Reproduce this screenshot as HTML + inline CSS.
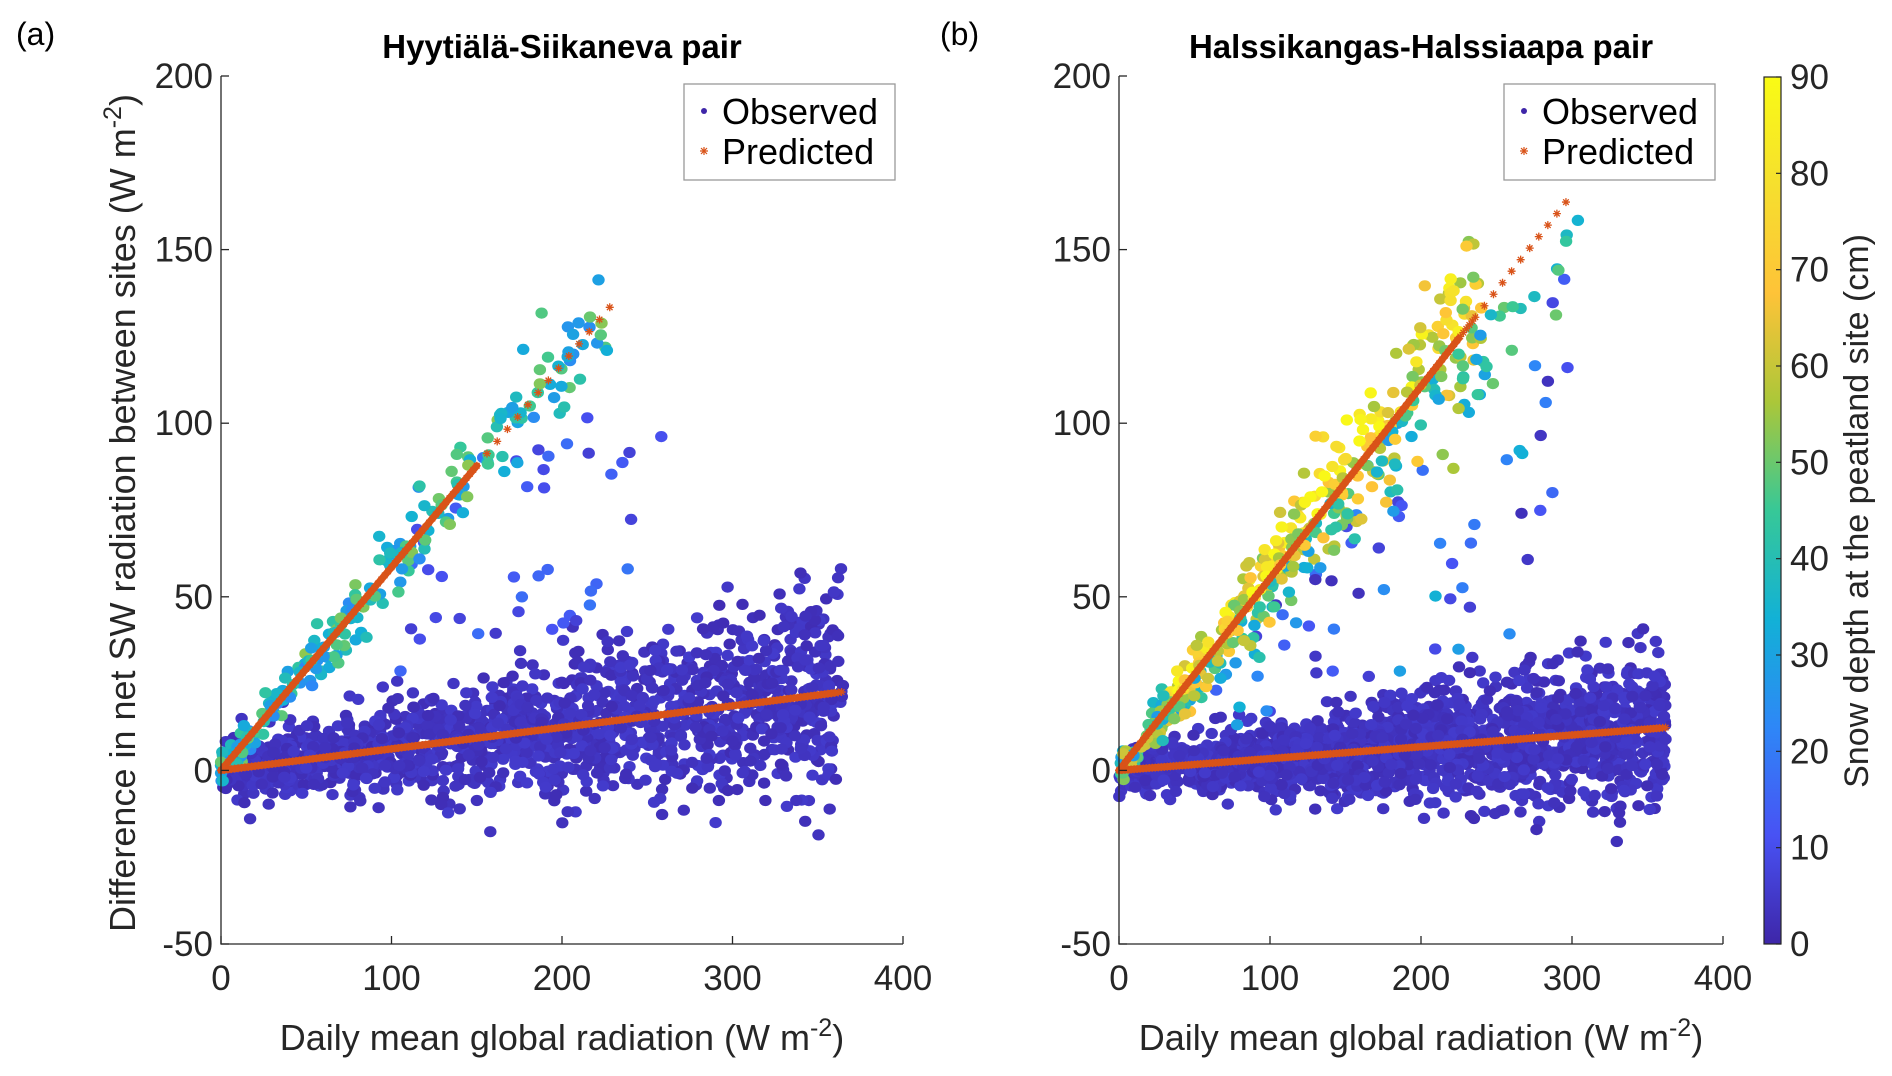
<!DOCTYPE html>
<html><head><meta charset="utf-8"><style>
body{margin:0;background:#fff;}
svg{display:block;font-family:"Liberation Sans",sans-serif;}
</style></head><body>
<svg id="s" width="1892" height="1076" viewBox="0 0 1892 1076" xmlns="http://www.w3.org/2000/svg">
<defs>
<linearGradient id="parula" x1="0" y1="1" x2="0" y2="0">
<stop offset="0" stop-color="rgb(62,38,168)"/>
<stop offset="0.125" stop-color="rgb(72,82,244)"/>
<stop offset="0.25" stop-color="rgb(46,135,247)"/>
<stop offset="0.375" stop-color="rgb(18,177,214)"/>
<stop offset="0.5" stop-color="rgb(55,200,151)"/>
<stop offset="0.625" stop-color="rgb(171,199,57)"/>
<stop offset="0.75" stop-color="rgb(254,195,56)"/>
<stop offset="0.875" stop-color="rgb(246,223,46)"/>
<stop offset="1" stop-color="rgb(249,251,21)"/>
</linearGradient>
</defs>
<g id="pa"></g>
<g id="pb"></g>
<g id="axes" fill="#262626" font-size="35"></g>
</svg>
<script>
var NS="http://www.w3.org/2000/svg";
var seed=12345;function rnd(){seed=(seed*1103515245+12345)%2147483648;return seed/2147483648;}
function gauss(){var u=rnd()||1e-9,v=rnd();return Math.sqrt(-2*Math.log(u))*Math.cos(2*Math.PI*v);}
var stops=[[0,62,38,168],[0.125,72,82,244],[0.25,46,135,247],[0.375,18,177,214],[0.5,55,200,151],[0.625,171,199,57],[0.75,254,195,56],[0.875,246,223,46],[1,249,251,21]];
function par(t){t=Math.max(0,Math.min(1,t));for(var i=1;i<stops.length;i++){if(t<=stops[i][0]){var a=stops[i-1],b=stops[i],f=(t-a[0])/(b[0]-a[0]);return"rgb("+Math.round(a[1]+f*(b[1]-a[1]))+","+Math.round(a[2]+f*(b[2]-a[2]))+","+Math.round(a[3]+f*(b[3]-a[3]))+")";}}return"rgb(249,251,21)";}
function el(p,t,a,txt){var e=document.createElementNS(NS,t);for(var k in a)e.setAttribute(k,a[k]);if(txt!==undefined)e.textContent=txt;p.appendChild(e);return e;}
var Y0=76,Y1=944;
function mk(x0,x1){var sx=(x1-x0)/400,sy=(Y1-Y0)/250;return{X:function(v){return x0+v*sx},Y:function(v){return Y1-(v+50)*sy}};}
var A=mk(221,903),B=mk(1119,1723);
function dot(g,m,x,y,c){el(g,'ellipse',{cx:m.X(x).toFixed(1),cy:m.Y(y).toFixed(1),rx:6.2,ry:5.6,fill:c});}
function star(g,m,x,y){var cx=m.X(x),cy=m.Y(y),r=4;el(g,'path',{d:"M"+(cx-r)+" "+cy+"h"+2*r+"M"+cx+" "+(cy-r)+"v"+2*r+"M"+(cx-r*.7)+" "+(cy-r*.7)+"l"+1.4*r+" "+1.4*r+"M"+(cx-r*.7)+" "+(cy+r*.7)+"l"+1.4*r+" "+(-1.4*r),stroke:"#d95319","stroke-width":1.3,fill:"none"});}
function band(g,m,x1,s){el(g,'path',{d:"M"+m.X(0)+" "+m.Y(0)+"L"+m.X(x1)+" "+m.Y(s*x1),stroke:"#d95319","stroke-width":7,"stroke-linecap":"round"});}
// panel a
var ga=document.getElementById('pa');
for(var i=0;i<1600;i++){var x=Math.pow(rnd(),0.9)*365;var y=0.062*x+gauss()*(4+x*0.03);dot(ga,A,x,y,par(0.02+rnd()*0.04));}
for(var i=0;i<40;i++){var x=100+rnd()*160;var y=0.2*x+rnd()*60;dot(ga,A,x,y,par(0.06+rnd()*0.15));}
for(var i=0;i<220;i++){var x=Math.pow(rnd(),1.4)*230;var y=0.585*x+gauss()*(2+x*0.03);dot(ga,A,x,y,par(0.25+rnd()*0.35));}
band(ga,A,360,0.062);band(ga,A,150,0.585);
for(var i=0;i<=365;i+=2){star(ga,A,i,0.062*i);}
for(var i=0;i<=232;i+=(i<150?2:6)){star(ga,A,i,0.585*i);}
// panel b
var gb=document.getElementById('pb');
for(var i=0;i<1900;i++){var x=Math.pow(rnd(),0.8)*362;var y=0.034*x+gauss()*(3+x*0.022);dot(gb,B,x,y,par(0.02+rnd()*0.04));}
for(var i=0;i<60;i++){var x=60+rnd()*240;var y=0.15*x+rnd()*0.35*x;dot(gb,B,x,y,par(0.03+rnd()*0.35));}
for(var i=0;i<420;i++){var x=Math.pow(rnd(),1.1)*240;var y=0.55*x+gauss()*(2+x*0.045);var c=x<30?0.3+rnd()*0.4:(y>0.55*x?0.55+rnd()*0.45:0.3+rnd()*0.5);dot(gb,B,x,y,par(c));}
for(var i=0;i<18;i++){var x=235+rnd()*70;var y=0.5*x+gauss()*8;dot(gb,B,x,y,par(0.25+rnd()*0.35));}
band(gb,B,358,0.034);band(gb,B,225,0.553);
for(var i=0;i<=362;i+=2){star(gb,B,i,0.034*i);}
for(var i=0;i<=300;i+=(i<235?2:6)){star(gb,B,i,0.553*i);}
// axes
var ax=document.getElementById('axes');
function axes(m,x0,x1){
 el(ax,'path',{d:"M"+x0+" "+Y0+"V"+Y1+"H"+x1,stroke:"#262626","stroke-width":1.3,fill:"none"});
 for(var v=-50;v<=200;v+=50){var y=m.Y(v);el(ax,'path',{d:"M"+x0+" "+y+"h8",stroke:"#262626","stroke-width":1.3});el(ax,'text',{x:x0-8,y:y+12,'text-anchor':'end'},String(v));}
 for(var v=0;v<=400;v+=100){var x=m.X(v);el(ax,'path',{d:"M"+x+" "+Y1+"v-8",stroke:"#262626","stroke-width":1.3});el(ax,'text',{x:x,y:Y1+46,'text-anchor':'middle'},String(v));}
}
axes(A,221,903);axes(B,1119,1723);
function legend(x,y){el(ax,'rect',{x:x,y:y,width:211,height:96,fill:"#fff",stroke:"#999","stroke-width":1.3});
 el(ax,'circle',{cx:x+20,cy:y+27,r:3,fill:"rgb(62,38,168)"});el(ax,'text',{x:x+38,y:y+40,'font-size':36,fill:'#000'},"Observed");
 var cx=x+20,cy=y+67,r=4;el(ax,'path',{d:"M"+(cx-r)+" "+cy+"h"+2*r+"M"+cx+" "+(cy-r)+"v"+2*r+"M"+(cx-3)+" "+(cy-3)+"l6 6M"+(cx-3)+" "+(cy+3)+"l6 -6",stroke:"#d95319","stroke-width":1.2});
 el(ax,'text',{x:x+38,y:y+80,'font-size':36,fill:'#000'},"Predicted");}
legend(684,84);legend(1504,84);
el(ax,'text',{x:562,y:58,'text-anchor':'middle','font-weight':'bold','font-size':33,fill:'#000'},"Hyytiälä-Siikaneva pair");
el(ax,'text',{x:1421,y:58,'text-anchor':'middle','font-weight':'bold','font-size':33,fill:'#000'},"Halssikangas-Halssiaapa pair");
el(ax,'text',{x:16,y:45,'font-size':32,fill:'#000'},"(a)");
el(ax,'text',{x:940,y:45,'font-size':32,fill:'#000'},"(b)");
var t=el(ax,'text',{x:0,y:0,'text-anchor':'middle','font-size':36,transform:"translate(135,513) rotate(-90)"});t.innerHTML='Difference in net SW radiation between sites (W m<tspan dy="-14" font-size="25">-2</tspan><tspan dy="14">)</tspan>';
t=el(ax,'text',{x:562,y:1050,'text-anchor':'middle','font-size':36});t.innerHTML='Daily mean global radiation (W m<tspan dy="-14" font-size="25">-2</tspan><tspan dy="14">)</tspan>';
t=el(ax,'text',{x:1421,y:1050,'text-anchor':'middle','font-size':36});t.innerHTML='Daily mean global radiation (W m<tspan dy="-14" font-size="25">-2</tspan><tspan dy="14">)</tspan>';
// colorbar
el(ax,'rect',{x:1764,y:77,width:17,height:867,fill:"url(#parula)",stroke:"#262626","stroke-width":1.2});
for(var v=0;v<=90;v+=10){var y=944-v/90*867;el(ax,'path',{d:"M1781 "+y+"h-5",stroke:"#262626","stroke-width":1.2});el(ax,'text',{x:1790,y:y+12},String(v));}
el(ax,'text',{x:0,y:0,'text-anchor':'middle','font-size':34,transform:"translate(1868,511) rotate(-90)"},"Snow depth at the peatland site (cm)");
</script>
</body></html>
